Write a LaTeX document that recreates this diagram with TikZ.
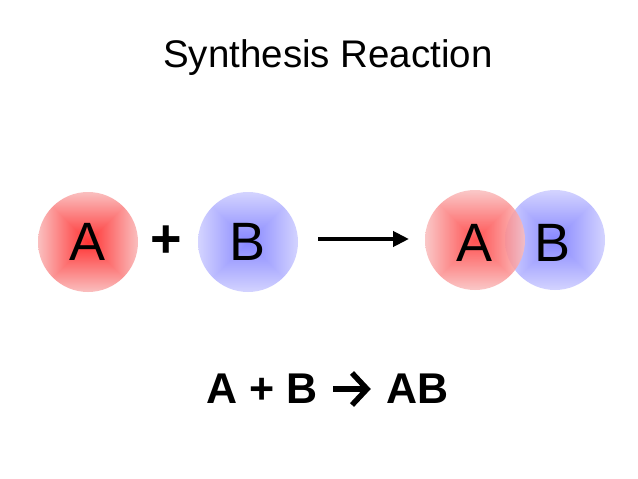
\documentclass[tikz,border=0pt]{standalone}
\usepackage{fontspec}
\setmainfont{Liberation Sans}
\usetikzlibrary{arrows.meta}
% square ("path") gradient, clipped by the circle: centre strong, edge pale
\pgfdeclarefunctionalshading{redsq}{\pgfpoint{-50bp}{-50bp}}{\pgfpoint{50bp}{50bp}}{}{
  abs exch abs 2 copy lt {exch} if pop
  25 div dup 1 gt {pop 1} if
  dup dup
  -0.02 mul 1 add
  3 1 roll
  0.55 mul 0.2 add
  exch
  0.55 mul 0.2 add
}
\pgfdeclarefunctionalshading{bluesq}{\pgfpoint{-50bp}{-50bp}}{\pgfpoint{50bp}{50bp}}{}{
  abs exch abs 2 copy lt {exch} if pop
  25 div dup 1 gt {pop 1} if
  dup dup
  0.30 mul 0.53 add
  3 1 roll
  0.30 mul 0.53 add
  exch
  0 mul 1 add
}
\tikzset{
  ball/.style={circle, minimum size=100pt, inner sep=0pt, font=\fontsize{54}{60}\selectfont},
  redball/.style={ball, shading=redsq},
  blueball/.style={ball, shading=bluesq},
  boldtext/.style={font=\fontsize{43}{48}\selectfont\bfseries, inner sep=0pt},
}
\begin{document}
\begin{tikzpicture}[x=1pt,y=-1pt]
\useasboundingbox[fill=white] (0,0) rectangle (638,479);
\node[anchor=base, font=\fontsize{38.5}{44}\selectfont, inner sep=0pt] (title) at (328,67) {Synthesis Reaction};
\node[redball] (a1) at (88,242) {A};
\node[font=\fontsize{54}{60}\selectfont\bfseries, inner sep=0pt] (plus) at (166,242) {+};
\node[blueball] (b1) at (248,242) {B};
\coordinate (r1) at (318,239);
\coordinate (r2) at (409,239);
\draw[line width=4.5pt, -{Triangle[length=16pt,width=15pt]}] (r1) -- (r2);
\node[blueball] (b2) at (555,240) {};
\node[redball, opacity=0.85] (a2) at (475,240) {};
\node[font=\fontsize{54}{60}\selectfont, inner sep=0pt] (ta) at (475,243) {A};
\node[font=\fontsize{54}{60}\selectfont, inner sep=0pt] (tb) at (553,243) {B};
\node[boldtext] (lhs) at (262.5,389) {A + B};
\coordinate (e1) at (333,389);
\coordinate (e2) at (367,389);
\coordinate (e3) at (352,373);
\coordinate (e4) at (352,405);
\draw[line width=5.5pt] (e1) -- (e2);
\draw[line width=5.5pt, miter limit=10] (e3) -- (e2) -- (e4);
\node[boldtext] (rhs) at (418,389) {AB};
\end{tikzpicture}
\end{document}
